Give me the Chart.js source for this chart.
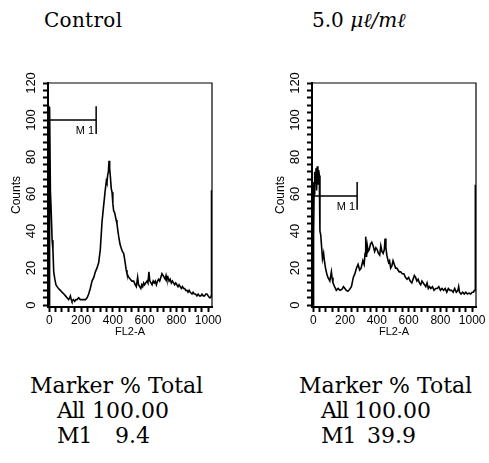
<!DOCTYPE html>
<html>
<head>
<meta charset="utf-8">
<script src="https://cdn.jsdelivr.net/npm/chart.js@4.4.1/dist/chart.umd.min.js"></script>
<style>
  html, body { margin: 0; padding: 0; background: #fff; }
  body { width: 489px; height: 463px; position: relative; overflow: hidden;
         font-family: 'DejaVu Serif', serif; color: #000; }
  .title { position: absolute; top: 8px; font-size: 20px; line-height: 24px; white-space: pre; }
  .box { position: absolute; top: 60px; height: 290px; }
  .stat { position: absolute; font-size: 22px; line-height: 25px; white-space: pre; }
</style>
</head>
<body>
<div class="title" style="left:44px; letter-spacing:0.3px">Control</div>
<div class="title" style="left:312px">5.0 <i>μℓ/mℓ</i></div>

<div class="box" style="left:0; width:230px"><canvas id="control"></canvas></div>
<div class="box" style="left:264px; width:225px"><canvas id="treated"></canvas></div>

<div class="stat" style="left:30px; top:373px">Marker % Total</div>
<div class="stat" style="left:57px; top:398px; letter-spacing:-1px">All</div>
<div class="stat" style="left:92px; top:398px">100.00</div>
<div class="stat" style="left:57px; top:423px; letter-spacing:-1px">M1</div>
<div class="stat" style="left:115px; top:423px">9.4</div>

<div class="stat" style="left:299px; top:373px">Marker % Total</div>
<div class="stat" style="left:321px; top:398px; letter-spacing:-1px">All</div>
<div class="stat" style="left:354px; top:398px">100.00</div>
<div class="stat" style="left:321px; top:423px; letter-spacing:-1px">M1</div>
<div class="stat" style="left:367px; top:423px">39.9</div>

<script>
// FL2-A channel / counts
const controlChannel = [
  0, 1, 3, 7, 12, 18, 23, 28, 35, 42, 49,
  58, 70, 80, 92, 102, 112, 122, 128, 133, 138,
  143, 152, 160, 168, 175, 185, 195, 205, 215, 228,
  238, 248, 258, 269, 280, 290, 300, 311, 321, 332,
  340, 346, 352, 359, 363, 367, 372, 376, 380, 384,
  390, 395, 400, 405, 411, 416, 421, 426, 432, 437,
  445, 452, 460, 468, 474, 479, 484, 489, 500, 510,
  520, 531, 536, 541, 548, 556, 562, 569, 576, 582,
  588, 594, 600, 607, 615, 621, 627, 633, 640, 647,
  654, 661, 667, 674, 681, 688, 695, 702, 709, 716,
  723, 730, 735, 740, 747, 754, 761, 768, 775, 782,
  789, 796, 803, 810, 817, 824, 831, 838, 845, 852,
  859, 866, 873, 880, 887, 898, 905, 912, 920, 929,
  937, 945, 953, 961, 969, 977, 985, 992, 1000, 1008,
  1015, 1019, 1021
];
const controlCounts = [
  0, 104, 107, 62, 51, 35, 30, 18, 14, 11, 10,
  9, 8, 7, 6, 5, 4, 3, 4, 5, 3,
  2, 3, 2, 3, 3, 4, 3, 3, 3, 3,
  4, 6, 9, 13, 15, 18, 20, 23, 30, 45,
  52, 57, 62, 67, 66, 70, 72, 78, 74, 70,
  63, 61, 55, 51, 50, 48, 46, 44, 40, 37,
  33, 31, 29, 28, 25, 22, 19, 17, 15, 14,
  13, 13, 12, 11, 10, 15, 11, 10, 9, 11,
  10, 12, 11, 12, 13, 12, 18, 13, 12, 11,
  13, 12, 13, 11, 13, 14, 13, 15, 17, 16,
  15, 14, 16, 14, 15, 13, 14, 12, 13, 12,
  11, 12, 11, 10, 11, 10, 9, 10, 9, 9,
  8, 8, 7, 8, 7, 6, 7, 6, 6, 5,
  6, 5, 5, 6, 5, 5, 6, 6, 5, 4,
  4, 5, 62
];

const treatedChannel = [
  0, 2, 5, 9, 13, 17, 21, 25, 29, 34,
  38, 42, 47, 52, 58, 65, 70, 77, 85, 92,
  98, 104, 110, 114, 118, 124, 134, 145, 156, 168,
  180, 190, 199, 208, 218, 228, 240, 252, 262, 272,
  282, 292, 301, 312, 320, 326, 330, 335, 340, 345,
  352, 360, 368, 377, 386, 394, 402, 410, 418, 425,
  432, 440, 447, 452, 457, 463, 468, 474, 480, 487,
  494, 502, 510, 518, 525, 533, 541, 550, 560, 570,
  580, 590, 600, 610, 620, 628, 636, 644, 652, 660,
  668, 676, 684, 692, 700, 708, 716, 724, 732, 740,
  750, 760, 770, 780, 790, 800, 810, 820, 830, 840,
  850, 860, 870, 880, 890, 900, 910, 915, 920, 930,
  940, 950, 960, 970, 980, 990, 1000, 1008, 1014, 1018, 1020
];
const treatedCounts = [
  0, 38, 60, 72, 66, 74, 62, 75, 65, 73,
  70, 40, 38, 32, 25, 28, 24, 20, 17, 15,
  14, 13, 16, 18, 15, 12, 10, 8, 9, 8,
  8.5, 10, 9, 8, 7.5, 8.5, 10, 15, 17, 20,
  22, 19, 20, 24, 22, 28, 37, 26, 32, 29,
  30, 33, 34, 32, 29, 31, 30, 28, 27, 32,
  29, 28, 30, 36, 31, 27, 25, 23, 24, 20,
  21, 24, 22, 20, 20, 19, 18, 18, 17, 17,
  15, 14, 15, 13, 12, 14, 16, 15, 13, 14,
  12, 11, 13, 12, 11, 10, 12, 9, 10, 9,
  10, 8, 9, 9, 10, 8, 9, 8, 9, 7,
  9, 8, 8, 7, 9, 7, 8, 10, 7, 6,
  7, 6, 7, 6, 6.5, 6, 7, 7, 8, 8, 65
];

// M1 gate: from / to channel, drawn at count level
const controlM1 = { from: 0, to: 295, level: 100 };
const treatedM1 = { from: 0, to: 276, level: 59 };

// labelled ticks, and the step of the unlabelled small ticks between them
const xTickLabels = [0, 200, 400, 600, 800, 1000];
const yTickLabels = [0, 20, 40, 60, 80, 100, 120];
const xMinorStep = 40;
const yMinorStep = 4;

const sansFamily = "'Liberation Sans', Arial, sans-serif";

function tickList(labels, step) {
  const out = [];
  const last = labels[labels.length - 1];
  for (let v = labels[0]; v <= last; v += step) out.push({ value: v });
  return out;
}

function boxPlugin(gate) {
  return {
    id: 'boxAndGate',
    afterDraw(chart) {
      const { ctx, chartArea: a } = chart;
      const x = chart.scales.x;
      const y = chart.scales.y;
      ctx.save();
      ctx.strokeStyle = '#000';

      // top and right sides of the frame
      ctx.lineWidth = 1.2;
      ctx.beginPath();
      ctx.moveTo(a.left, a.top);
      ctx.lineTo(a.right, a.top);
      ctx.lineTo(a.right, a.bottom);
      ctx.stroke();

      // M1 marker
      const x0 = x.getPixelForValue(gate.from);
      const x1 = x.getPixelForValue(gate.to);
      const py = y.getPixelForValue(gate.level);
      const hi = y.getPixelForValue(gate.level + 7.5);
      const lo = y.getPixelForValue(gate.level - 7.5);
      ctx.lineWidth = 1.5;
      ctx.beginPath();
      ctx.moveTo(x0, py);
      ctx.lineTo(x1, py);
      ctx.moveTo(x1, hi);
      ctx.lineTo(x1, lo);
      ctx.moveTo(x0, hi);
      ctx.lineTo(x0, lo);
      ctx.stroke();
      ctx.fillStyle = '#000';
      ctx.font = '11px ' + sansFamily;
      ctx.textAlign = 'right';
      ctx.textBaseline = 'middle';
      ctx.fillText('M 1', x1 - 2, py + 11);
      ctx.restore();
    }
  };
}

function axisGrid() {
  return {
    drawOnChartArea: false,
    tickLength: 5,
    tickColor: '#000',
    tickWidth: 2
  };
}

function makeHistogram(canvasId, channels, counts, gate, padRight) {
  const points = channels.map((c, i) => ({ x: c, y: counts[i] }));
  return new Chart(document.getElementById(canvasId), {
    type: 'line',
    data: {
      datasets: [{
        data: points,
        borderColor: '#000',
        borderWidth: 1.6,
        pointRadius: 0,
        tension: 0,
        fill: false
      }]
    },
    options: {
      responsive: true,
      maintainAspectRatio: false,
      animation: false,
      layout: { padding: { left: 0, top: 23, right: padRight, bottom: 0 } },
      plugins: { legend: { display: false }, tooltip: { enabled: false } },
      scales: {
        x: {
          type: 'linear',
          min: -8,
          max: 1024,
          afterBuildTicks: s => { s.ticks = tickList(xTickLabels, xMinorStep); },
          afterFit: s => { s.height = 43; },
          grid: axisGrid(),
          border: { color: '#000', width: 2 },
          ticks: {
            color: '#000', font: { family: sansFamily, size: 12 }, padding: 1,
            maxRotation: 0, autoSkip: false,
            callback: v => (xTickLabels.includes(v) ? String(v) : '')
          },
          title: {
            display: true, text: 'FL2-A', color: '#000',
            font: { family: sansFamily, size: 11 },
            padding: { top: 0, bottom: 11 }
          }
        },
        y: {
          min: -1,
          max: 120,
          afterBuildTicks: s => { s.ticks = tickList(yTickLabels, yMinorStep); },
          afterFit: s => { s.width = 48; },
          grid: axisGrid(),
          border: { color: '#000', width: 2 },
          ticks: {
            color: '#000', font: { family: sansFamily, size: 13 }, padding: 1,
            minRotation: 90, maxRotation: 90, crossAlign: 'center', autoSkip: false,
            callback: v => (yTickLabels.includes(v) ? String(v) : '')
          },
          title: {
            display: true, text: 'Counts', color: '#000',
            font: { family: sansFamily, size: 12 },
            padding: { top: 9.5, bottom: 0 }
          }
        }
      }
    },
    plugins: [boxPlugin(gate)]
  });
}

makeHistogram('control', controlChannel, controlCounts, controlM1, 18);
makeHistogram('treated', treatedChannel, treatedCounts, treatedM1, 13);
</script>
</body>
</html>
